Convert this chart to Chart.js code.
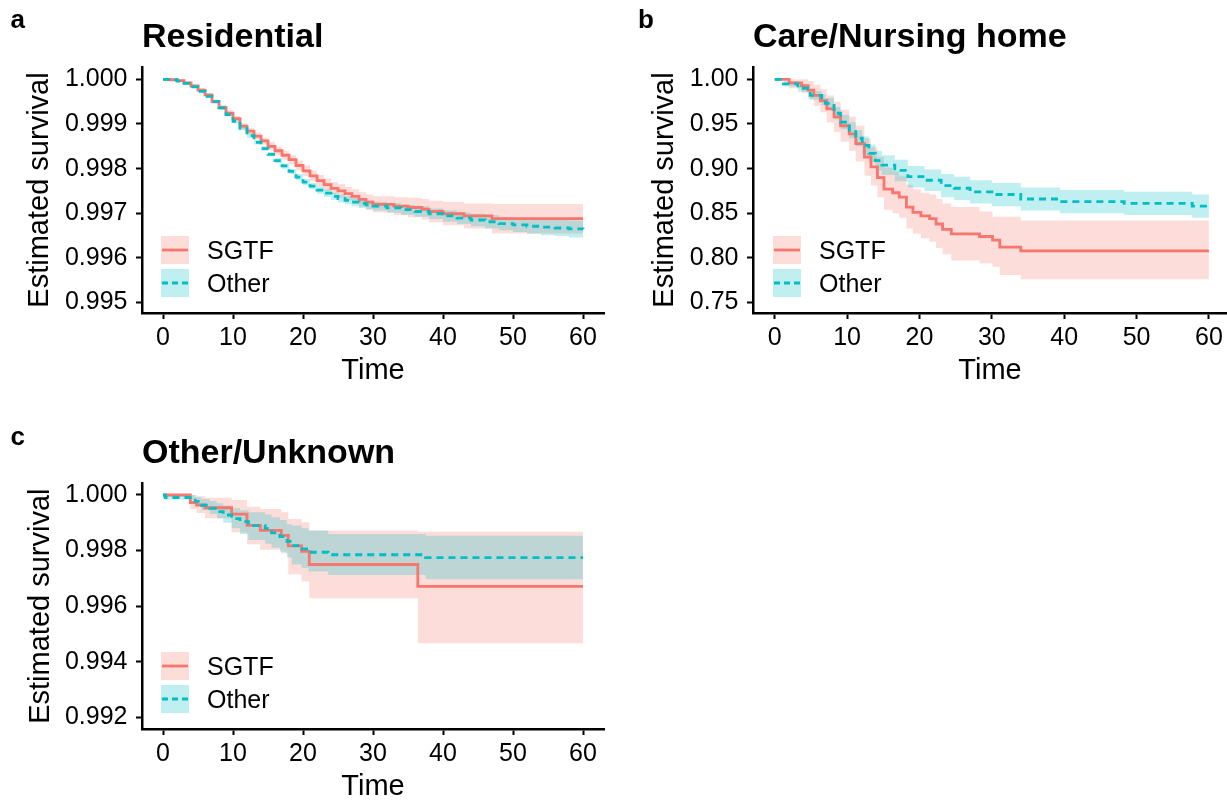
<!DOCTYPE html>
<html>
<head>
<meta charset="utf-8">
<script src="https://cdn.jsdelivr.net/npm/chart.js@4.4.0/dist/chart.umd.min.js"></script>
<style>
  html, body { margin: 0; padding: 0; background: #fff; width: 1227px; height: 801px; overflow: hidden; }
  .panel { position: absolute; }
</style>
</head>
<body>
<div class="panel" style="left:0;top:0"><canvas id="chartA" width="613" height="400"></canvas></div>
<div class="panel" style="left:613px;top:0"><canvas id="chartB" width="614" height="400"></canvas></div>
<div class="panel" style="left:0;top:400px"><canvas id="chartC" width="613" height="416"></canvas></div>
<script>
// ---- data ----
const timeTicks = [0, 10, 20, 30, 40, 50, 60];
const timeTickLabels = ['0', '10', '20', '30', '40', '50', '60'];
const legendLabels = ['SGTF', 'Other'];

// a: Residential
const resTicks = [0.995, 0.996, 0.997, 0.998, 0.999, 1.000];
const resTickLabels = ['0.995', '0.996', '0.997', '0.998', '0.999', '1.000'];
const resSgtfTime = [0,1,2,3,4,5,6,7,8,9,10,11,12,13,14,15,16,17,18,19,20,21,22,23,24,25,26,27,28,29,30,33,35,37,38,40,43,47,60];
const resSgtfSurv = [1.00000,0.99999,0.99997,0.99992,0.99985,0.99976,0.99965,0.99950,0.99937,0.99924,0.99912,0.99895,0.99884,0.99873,0.99862,0.99850,0.99840,0.99830,0.99820,0.99807,0.99795,0.99784,0.99773,0.99764,0.99756,0.99750,0.99744,0.99738,0.99731,0.99725,0.99720,0.99716,0.99713,0.99709,0.99704,0.99699,0.99694,0.99688,0.99688];
const resSgtfLower = [1.00000,0.99998,0.99995,0.99989,0.99982,0.99972,0.99961,0.99945,0.99932,0.99918,0.99906,0.99888,0.99877,0.99865,0.99854,0.99841,0.99831,0.99820,0.99810,0.99796,0.99783,0.99772,0.99760,0.99750,0.99742,0.99735,0.99729,0.99722,0.99715,0.99708,0.99702,0.99696,0.99691,0.99686,0.99680,0.99673,0.99666,0.99655,0.99655];
const resSgtfUpper = [1.00000,1.00000,0.99999,0.99995,0.99988,0.99980,0.99969,0.99955,0.99942,0.99930,0.99918,0.99902,0.99891,0.99881,0.99870,0.99859,0.99849,0.99840,0.99830,0.99818,0.99807,0.99796,0.99786,0.99778,0.99770,0.99765,0.99759,0.99754,0.99747,0.99742,0.99738,0.99736,0.99735,0.99732,0.99728,0.99725,0.99722,0.99721,0.99721];
const resOtherTime = [0,1,2,3,4,5,6,7,8,9,10,11,12,13,14,15,16,17,18,19,20,21,22,23,24,25,26,27,28,29,30,32,34,36,38,40,42,44,46,48,50,52,54,56,58,60];
const resOtherSurv = [1.00000,0.99999,0.99996,0.99991,0.99983,0.99973,0.99962,0.99950,0.99936,0.99921,0.99906,0.99890,0.99874,0.99859,0.99845,0.99832,0.99818,0.99806,0.99794,0.99781,0.99770,0.99761,0.99752,0.99745,0.99738,0.99733,0.99729,0.99725,0.99722,0.99719,0.99716,0.99712,0.99708,0.99704,0.99699,0.99694,0.99689,0.99685,0.99681,0.99677,0.99674,0.99671,0.99669,0.99667,0.99665,0.99664];
const resOtherLower = [1.00000,0.99998,0.99995,0.99989,0.99981,0.99970,0.99959,0.99947,0.99932,0.99917,0.99902,0.99886,0.99869,0.99854,0.99840,0.99827,0.99812,0.99800,0.99788,0.99774,0.99763,0.99754,0.99744,0.99737,0.99730,0.99724,0.99720,0.99716,0.99712,0.99709,0.99706,0.99701,0.99697,0.99692,0.99687,0.99681,0.99676,0.99671,0.99666,0.99662,0.99658,0.99654,0.99651,0.99649,0.99646,0.99645];
const resOtherUpper = [1.00000,1.00000,0.99997,0.99993,0.99985,0.99976,0.99965,0.99953,0.99940,0.99925,0.99910,0.99894,0.99879,0.99864,0.99850,0.99837,0.99824,0.99812,0.99800,0.99788,0.99777,0.99768,0.99760,0.99753,0.99746,0.99742,0.99738,0.99734,0.99732,0.99729,0.99726,0.99723,0.99719,0.99716,0.99711,0.99707,0.99702,0.99699,0.99696,0.99692,0.99690,0.99688,0.99687,0.99685,0.99684,0.99683];

// b: Care/Nursing home
const careTicks = [0.75, 0.80, 0.85, 0.90, 0.95, 1.00];
const careTickLabels = ['0.75', '0.80', '0.85', '0.90', '0.95', '1.00'];
const careSgtfTime = [0,2,3.7,4.6,5.4,6.3,7.2,8.2,9.1,10.3,11.2,12.4,13.3,14.2,15.1,16.3,17.2,18.2,19.1,20.2,21.4,22.3,23.2,24.4,28.3,30.1,31.1,34,60];
const careSgtfSurv = [1.000,0.996,0.993,0.988,0.982,0.976,0.967,0.958,0.948,0.939,0.928,0.913,0.902,0.890,0.877,0.873,0.868,0.857,0.851,0.847,0.844,0.838,0.832,0.827,0.824,0.820,0.812,0.808,0.808];
const careSgtfLower = [1.000,0.990,0.985,0.978,0.970,0.963,0.952,0.941,0.930,0.920,0.908,0.892,0.881,0.868,0.854,0.850,0.845,0.833,0.827,0.822,0.818,0.811,0.804,0.797,0.794,0.790,0.781,0.776,0.776];
const careSgtfUpper = [1.000,1.000,1.000,0.998,0.994,0.989,0.982,0.975,0.966,0.958,0.948,0.934,0.924,0.913,0.901,0.897,0.892,0.882,0.877,0.873,0.871,0.866,0.861,0.857,0.852,0.846,0.846,0.842,0.842];
const careOtherTime = [0,1.2,3.2,4.9,6.5,7,8.2,9.1,10.3,11.2,12.1,13,13.9,14.8,16.6,18.4,20.7,23,24.8,27,30,34,39.4,48.3,57.7,60];
const careOtherSurv = [1.000,0.995,0.990,0.982,0.977,0.973,0.962,0.952,0.943,0.934,0.926,0.917,0.909,0.904,0.898,0.891,0.887,0.881,0.878,0.874,0.871,0.866,0.863,0.861,0.858,0.858];
const careOtherLower = [1.000,0.992,0.986,0.977,0.971,0.967,0.955,0.944,0.934,0.925,0.916,0.907,0.898,0.893,0.886,0.879,0.875,0.868,0.865,0.861,0.858,0.853,0.850,0.848,0.845,0.845];
const careOtherUpper = [1.000,0.998,0.994,0.987,0.983,0.979,0.969,0.960,0.952,0.943,0.936,0.927,0.920,0.915,0.910,0.903,0.899,0.894,0.891,0.887,0.884,0.879,0.876,0.874,0.871,0.871];

// c: Other/Unknown
const unkTicks = [0.992, 0.994, 0.996, 0.998, 1.000];
const unkTickLabels = ['0.992', '0.994', '0.996', '0.998', '1.000'];
const unkSgtfTime = [0,3.9,4.8,6.0,9.8,12.0,13.9,16.9,17.9,19.8,20.9,36.4,60];
const unkSgtfSurv = [1.00000,0.99973,0.99964,0.99954,0.99931,0.99891,0.99873,0.99855,0.99817,0.99797,0.99750,0.99671,0.99671];
const unkSgtfLower = [1.00000,0.99950,0.99935,0.99916,0.99865,0.99823,0.99803,0.99790,0.99715,0.99689,0.99629,0.99467,0.99467];
const unkSgtfUpper = [1.00000,1.00000,0.99995,0.99990,0.99982,0.99958,0.99950,0.99938,0.99914,0.99902,0.99872,0.99868,0.99868];
const unkOtherTime = [0,0.3,4.6,5.5,6.7,7.7,8.6,9.8,11.0,12.2,14.6,15.5,16.7,17.7,18.4,19.8,20.8,23.6,37.5,60];
const unkOtherSurv = [1.00000,0.99991,0.99977,0.99963,0.99952,0.99940,0.99928,0.99915,0.99904,0.99890,0.99880,0.99864,0.99850,0.99833,0.99818,0.99806,0.99794,0.99785,0.99775,0.99775];
const unkOtherLower = [1.00000,0.99984,0.99965,0.99945,0.99932,0.99915,0.99900,0.99880,0.99860,0.99838,0.99825,0.99810,0.99796,0.99775,0.99750,0.99738,0.99725,0.99712,0.99697,0.99697];
const unkOtherUpper = [1.00000,0.99999,0.99992,0.99985,0.99978,0.99970,0.99962,0.99952,0.99945,0.99938,0.99930,0.99920,0.99910,0.99895,0.99890,0.99880,0.99872,0.99860,0.99853,0.99853];

// ---- styling ----
const FONT = '"Liberation Sans", Arial, sans-serif';
const RED = '#F8766D', CYAN = '#00BFC4';
const RED_FILL = 'rgba(248,118,109,0.25)', CYAN_FILL = 'rgba(0,191,196,0.25)';
Chart.defaults.font.family = FONT;
Chart.defaults.color = '#000';

const pts = (xs, ys) => xs.map((x, i) => ({ x: x, y: ys[i] }));

// panel letter, title and the in-plot legend
const panelDecor = {
  id: 'panelDecor',
  afterDraw(chart, args, o) {
    const ctx = chart.ctx, area = chart.chartArea;
    ctx.save();
    ctx.fillStyle = '#000';
    ctx.textBaseline = 'alphabetic';
    ctx.textAlign = 'left';
    ctx.font = 'bold 26px ' + FONT;
    ctx.fillText(o.letter, o.letterX, o.letterBase);
    ctx.font = 'bold 34px ' + FONT;
    ctx.fillText(o.title, area.left, o.titleBase);

    // legend keys
    const kx = area.left + o.keyDx;
    const k2 = area.bottom - 16 - 28;
    const k1 = k2 - 33;
    ctx.fillStyle = RED_FILL;
    ctx.fillRect(kx, k1, 28, 28);
    ctx.fillStyle = CYAN_FILL;
    ctx.fillRect(kx, k2, 28, 28);
    ctx.lineWidth = 2.8;
    ctx.strokeStyle = RED;
    ctx.beginPath(); ctx.moveTo(kx + 1, k1 + 14); ctx.lineTo(kx + 27, k1 + 14); ctx.stroke();
    ctx.strokeStyle = CYAN;
    ctx.setLineDash([6, 4]);
    ctx.beginPath(); ctx.moveTo(kx + 1, k2 + 14); ctx.lineTo(kx + 27, k2 + 14); ctx.stroke();
    ctx.setLineDash([]);
    ctx.fillStyle = '#000';
    ctx.font = '25px ' + FONT;
    ctx.textBaseline = 'middle';
    ctx.fillText(legendLabels[0], kx + 46, k1 + 16);
    ctx.fillText(legendLabels[1], kx + 46, k2 + 16);
    ctx.restore();
  }
};

function makePanel(id, d, lay) {
  const axisGrid = { display: true, drawOnChartArea: false, drawTicks: true, tickLength: 6, tickWidth: 2, tickColor: '#000', color: '#000' };
  const axisBorder = { display: true, color: '#000', width: 2.5 };
  new Chart(document.getElementById(id), {
    type: 'line',
    data: {
      datasets: [
        { data: pts(d.sT, d.sU), stepped: 'before', borderWidth: 0, borderColor: 'transparent', fill: false, order: 4 },
        { data: pts(d.sT, d.sL), stepped: 'before', borderWidth: 0, borderColor: 'transparent', fill: '-1', backgroundColor: RED_FILL, order: 4 },
        { data: pts(d.oT, d.oU), stepped: 'before', borderWidth: 0, borderColor: 'transparent', fill: false, order: 3 },
        { data: pts(d.oT, d.oL), stepped: 'before', borderWidth: 0, borderColor: 'transparent', fill: '-1', backgroundColor: CYAN_FILL, order: 3 },
        { data: pts(d.sT, d.sS), stepped: 'before', borderColor: RED, borderWidth: 2.8, fill: false, order: 2 },
        { data: pts(d.oT, d.oS), stepped: 'before', borderColor: CYAN, borderWidth: 2.8, borderDash: [7, 5], fill: false, order: 1 }
      ]
    },
    options: {
      responsive: false,
      animation: false,
      devicePixelRatio: 1,
      elements: { point: { radius: 0 } },
      layout: { padding: { left: 0, right: lay.padRight, top: lay.padTop, bottom: 0 } },
      plugins: {
        legend: { display: false },
        tooltip: { enabled: false },
        panelDecor: { letter: lay.letter, letterX: lay.letterX, letterBase: lay.letterBase, title: lay.title, titleBase: lay.titleBase, keyDx: lay.keyDx }
      },
      scales: {
        x: {
          type: 'linear',
          min: -3,
          max: lay.xMax,
          afterBuildTicks: s => { s.ticks = timeTicks.map(v => ({ value: v })); },
          afterFit: s => { s.height = 87; },
          grid: axisGrid,
          border: axisBorder,
          ticks: { autoSkip: false, maxRotation: 0, padding: 4, color: '#000', font: { size: 25, lineHeight: 1.2 }, callback: (v, i) => timeTickLabels[i] },
          title: { display: true, text: 'Time', color: '#000', font: { size: 29, lineHeight: 1 }, padding: { top: 0, bottom: 15 } }
        },
        y: {
          type: 'linear',
          min: lay.yMin,
          max: lay.yMax,
          afterBuildTicks: s => { s.ticks = d.yTicks.map(v => ({ value: v })); },
          afterFit: s => { s.width = lay.yAxisWidth; },
          grid: axisGrid,
          border: axisBorder,
          ticks: { autoSkip: false, padding: 8.5, color: '#000', font: { size: 25, lineHeight: 1.2 }, callback: (v, i) => d.yLabels[i] },
          title: { display: true, text: 'Estimated survival', color: '#000', font: { size: 29, lineHeight: 1 }, padding: { top: lay.yTitlePad, bottom: 0 } }
        }
      }
    },
    plugins: [panelDecor]
  });
}

makePanel('chartA',
  { sT: resSgtfTime, sS: resSgtfSurv, sL: resSgtfLower, sU: resSgtfUpper,
    oT: resOtherTime, oS: resOtherSurv, oL: resOtherLower, oU: resOtherUpper,
    yTicks: resTicks, yLabels: resTickLabels },
  { padRight: 9, padTop: 67, yAxisWidth: 142, xMax: 63, yMin: 0.994767, yMax: 1.000276, yTitlePad: 25.5,
    letter: 'a', letterX: 10.5, letterBase: 28, title: 'Residential', titleBase: 47, keyDx: 19 });

makePanel('chartB',
  { sT: careSgtfTime, sS: careSgtfSurv, sL: careSgtfLower, sU: careSgtfUpper,
    oT: careOtherTime, oS: careOtherSurv, oL: careOtherLower, oU: careOtherUpper,
    yTicks: careTicks, yLabels: careTickLabels },
  { padRight: 0, padTop: 67, yAxisWidth: 140, xMax: 62.5, yMin: 0.73834, yMax: 1.01379, yTitlePad: 37.5,
    letter: 'b', letterX: 25, letterBase: 28, title: 'Care/Nursing home', titleBase: 47, keyDx: 20 });

makePanel('chartC',
  { sT: unkSgtfTime, sS: unkSgtfSurv, sL: unkSgtfLower, sU: unkSgtfUpper,
    oT: unkOtherTime, oS: unkOtherSurv, oL: unkOtherLower, oU: unkOtherUpper,
    yTicks: unkTicks, yLabels: unkTickLabels },
  { padRight: 9, padTop: 83.3, yAxisWidth: 142, xMax: 63, yMin: 0.991583, yMax: 1.00042, yTitlePad: 26,
    letter: 'c', letterX: 10.5, letterBase: 45, title: 'Other/Unknown', titleBase: 63.3, keyDx: 19 });
</script>
</body>
</html>
